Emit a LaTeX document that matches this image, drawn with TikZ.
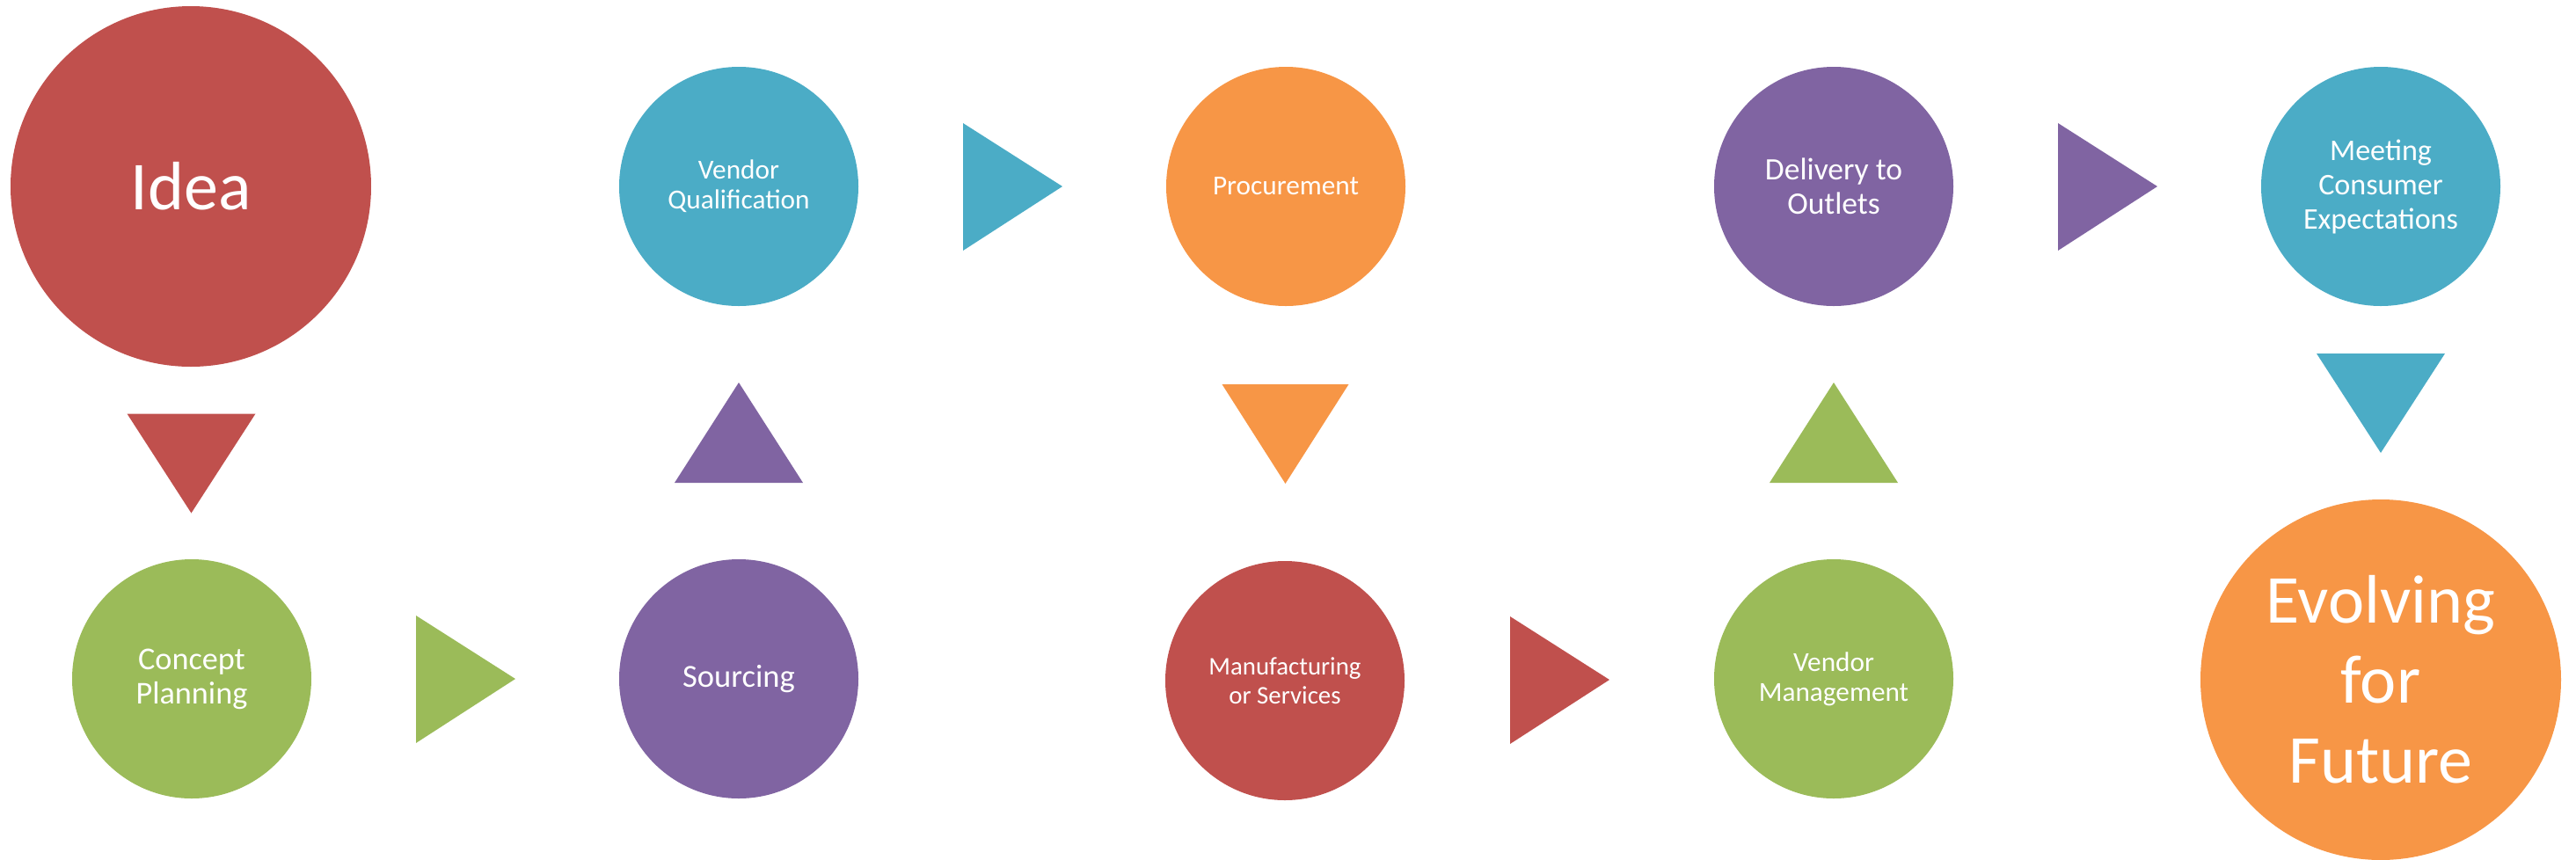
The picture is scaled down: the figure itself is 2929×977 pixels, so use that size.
\documentclass[tikz,border=0pt]{standalone}
\usepackage{fontspec}
\setmainfont{Carlito}
\usetikzlibrary{positioning,calc}
\definecolor{cred}{HTML}{C0504D}
\definecolor{cgreen}{HTML}{9BBB59}
\definecolor{cpurple}{HTML}{8064A2}
\definecolor{cblue}{HTML}{4BACC6}
\definecolor{corange}{HTML}{F79646}
\tikzset{
  stage/.style   ={circle, inner sep=0pt, minimum size=27.2mm, align=center,
                   text=white, font=\fontsize{8.9}{9.7}\selectfont},
  bigstage/.style={stage, minimum size=41mm, font=\fontsize{22.2}{25.9}\selectfont},
}
\begin{document}
\begin{tikzpicture}[x=0.1mm, y=-0.1mm]
  \useasboundingbox (0,0) rectangle (2929,977);
  % top row
  \node[bigstage, fill=cred] (idea) at (217,212) {Idea};
  \node[stage, fill=cblue] (qual) at (840,212) {Vendor\\Qualification};
  \node[stage, fill=corange] (proc) at (1462,212) {Procurement};
  \node[stage, fill=cpurple, font=\fontsize{10.1}{11}\selectfont] (deliv) at (2085,212) {Delivery to\\Outlets};
  \node[stage, fill=cblue, font=\fontsize{9.7}{11.1}\selectfont] (meet) at (2707,212) {Meeting\\Consumer\\Expectations};
  % bottom row
  \node[stage, fill=cgreen, font=\fontsize{10.3}{11.1}\selectfont] (concept) at (218,772) {Concept\\Planning};
  \node[stage, fill=cpurple, font=\fontsize{10.4}{11.1}\selectfont] (src) at (840,772) {Sourcing};
  \node[stage, fill=cred, font=\fontsize{8.2}{9.4}\selectfont] (manuf) at (1461,774) {Manufacturing\\or Services};
  \node[stage, fill=cgreen] (vman) at (2085,772) {Vendor\\Management};
  \node[bigstage, fill=corange] (evolve) at (2707,773) {Evolving\\for\\Future};
  % gap midpoints
  \coordinate (g1) at ($(idea.south)!0.5!(concept.north)$);
  \coordinate (g2) at ($(concept.east)!0.5!(src.west)$);
  \coordinate (g3) at ($(src.north)!0.5!(qual.south)$);
  \coordinate (g4) at ($(qual.east)!0.5!(proc.west)$);
  \coordinate (g5) at ($(proc.south)!0.5!(manuf.north)$);
  \coordinate (g6) at ($(manuf.east)!0.5!(vman.west)$);
  \coordinate (g7) at ($(vman.north)!0.5!(deliv.south)$);
  \coordinate (g8) at ($(deliv.east)!0.5!(meet.west)$);
  \coordinate (g9) at ($(meet.south)!0.5!(evolve.north)$);
  % down
  \fill[cred] ($(g1)+(-73,-56)$) -- ($(g1)+(73,-56)$) -- ($(g1)+(0,57)$) -- cycle;
  \fill[corange] ($(g5)+(-72,-56)$) -- ($(g5)+(72,-56)$) -- ($(g5)+(0,57)$) -- cycle;
  \fill[cblue] ($(g9)+(-73,-56)$) -- ($(g9)+(73,-56)$) -- ($(g9)+(0,57)$) -- cycle;
  % up
  \fill[cpurple] ($(g3)+(-73,57)$) -- ($(g3)+(73,57)$) -- ($(g3)+(0,-57)$) -- cycle;
  \fill[cgreen] ($(g7)+(-73,57)$) -- ($(g7)+(73,57)$) -- ($(g7)+(0,-57)$) -- cycle;
  % right
  \fill[cgreen] ($(g2)+(-56,-72)$) -- ($(g2)+(57,0)$) -- ($(g2)+(-56,73)$) -- cycle;
  \fill[cblue] ($(g4)+(-56,-72)$) -- ($(g4)+(57,0)$) -- ($(g4)+(-56,73)$) -- cycle;
  \fill[cred] ($(g6)+(-56,-72)$) -- ($(g6)+(57,0)$) -- ($(g6)+(-56,73)$) -- cycle;
  \fill[cpurple] ($(g8)+(-56,-72)$) -- ($(g8)+(57,0)$) -- ($(g8)+(-56,73)$) -- cycle;
\end{tikzpicture}
\end{document}
